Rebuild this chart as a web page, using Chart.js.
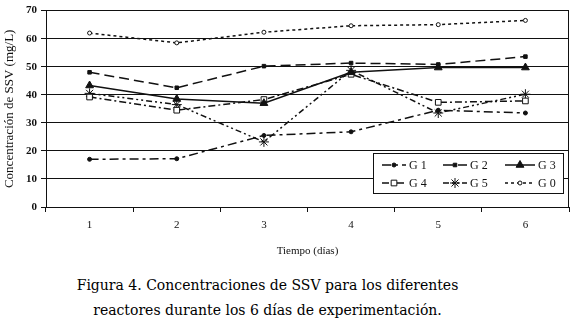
<!DOCTYPE html>
<html>
<head>
<meta charset="utf-8">
<script src="https://cdn.jsdelivr.net/npm/chart.js@4"></script>
<style>
  html, body { margin: 0; padding: 0; background: #fff; }
  #wrap { position: relative; width: 575px; height: 262px; }
  #caption {
    width: 535px;
    text-align: center;
    font-family: "DejaVu Serif", serif;
    font-size: 14px;
    line-height: 25px;
    color: #000;
    margin-top: 11px;
  }
</style>
</head>
<body>
<div id="wrap"><canvas id="myChart" width="575" height="262"></canvas></div>
<div id="caption">Figura 4. Concentraciones de SSV para los diferentes<br>reactores durante los 6 días de experimentación.</div>
<script>
const dias = ['1', '2', '3', '4', '5', '6']
const g1 = [17, 17.2, 25.5, 26.8, 34.5, 33.5]
const g2 = [48, 42.5, 50.2, 51.3, 50.8, 53.6]
const g3 = [43.3, 38.5, 37, 48, 49.7, 49.7]
const g4 = [39.2, 34.5, 38.3, 47.3, 37.3, 37.8]
const g5 = [40.5, 36.5, 23.2, 48.7, 33.5, 40.2]
const g0 = [62, 58.5, 62.3, 64.6, 65, 66.5]
const yTicks = [0, 10, 20, 30, 40, 50, 60, 70]

const serif = '"Liberation Serif", "Times New Roman", serif'

function serie(label, values, style) {
  return Object.assign({
    label: label,
    data: values,
    borderColor: '#111',
    backgroundColor: '#111',
    pointBorderColor: '#111',
    pointBackgroundColor: '#111',
    borderWidth: 1.5,
    tension: 0,
    pointBorderWidth: 1
  }, style)
}

const datasets = [
  serie('G 1', g1, { borderDash: [9, 4, 3, 4], pointStyle: 'circle', pointRadius: 2 }),
  serie('G 2', g2, { borderDash: [10, 5], pointStyle: 'rect', pointRadius: 2.5 }),
  serie('G 3', g3, { pointStyle: 'triangle', pointRadius: 4.5 }),
  serie('G 4', g4, { borderDash: [7, 3, 2, 3], pointStyle: 'rect', pointRadius: 4, pointBackgroundColor: '#fff' }),
  serie('G 5', g5, { borderDash: [6, 3, 2, 3, 2, 3], pointStyle: 'star', pointRadius: 5 }),
  serie('G 0', g0, { borderDash: [3, 3], pointStyle: 'circle', pointRadius: 2, pointBackgroundColor: '#fff' })
]

// marco derecho y leyenda dentro del area
const legendCols = [382, 443, 505]
const legendRows = [165, 183]

const extras = {
  id: 'extras',
  afterDraw(chart) {
    const ctx = chart.ctx
    const a = chart.chartArea
    ctx.save()
    ctx.strokeStyle = '#111'
    ctx.lineWidth = 1
    ctx.beginPath()
    ctx.moveTo(a.right - 0.5, a.top)
    ctx.lineTo(a.right - 0.5, a.bottom)
    ctx.stroke()

    // caja de leyenda
    ctx.fillStyle = '#fff'
    ctx.fillRect(373, 153, 190, 40)
    ctx.strokeRect(373.5, 153.5, 190, 40)
    ctx.font = '12px ' + serif
    ctx.textBaseline = 'middle'
    chart.data.datasets.forEach((ds, i) => {
      const x = legendCols[i % 3]
      const y = legendRows[Math.floor(i / 3)]
      const len = (i % 3 === 2) ? 30 : 24
      ctx.strokeStyle = '#111'
      ctx.lineWidth = ds.borderWidth
      ctx.setLineDash(ds.borderDash || [])
      ctx.beginPath()
      ctx.moveTo(x, y)
      ctx.lineTo(x + len, y)
      ctx.stroke()
      ctx.setLineDash([])
      ctx.lineWidth = 1
      ctx.fillStyle = ds.pointBackgroundColor
      Chart.helpers.drawPoint(ctx, {
        pointStyle: ds.pointStyle,
        radius: ds.pointRadius,
        borderWidth: 1
      }, x + len / 2, y)
      ctx.fillStyle = '#111'
      ctx.fillText(ds.label, x + len + 3, y + 1)
    })
    ctx.restore()
  }
}

const config = {
  type: 'line',
  data: { labels: dias, datasets: datasets },
  options: {
    responsive: false,
    animation: false,
    layout: { padding: { top: 7, right: 6, left: 0, bottom: 0 } },
    plugins: { legend: { display: false }, tooltip: { enabled: false } },
    scales: {
      x: {
        offset: true,
        grid: { display: true, offset: true, drawOnChartArea: false, drawTicks: true, tickLength: 5, color: '#111' },
        border: { color: '#111', width: 1 },
        ticks: { color: '#111', font: { family: serif, size: 11 }, padding: 7, maxRotation: 0 },
        title: { display: true, text: 'Tiempo (días)', color: '#111', font: { family: serif, size: 11 }, padding: { top: 6 } },
        afterFit(scale) { scale.height = 55 }
      },
      y: {
        min: 0,
        max: 70,
        afterBuildTicks(scale) { scale.ticks = yTicks.map(v => ({ value: v })) },
        grid: { color: '#111', lineWidth: 1, tickLength: 5 },
        border: { color: '#111', width: 1 },
        ticks: { color: '#111', font: { family: serif, size: 11, weight: 'bold' }, padding: 4 },
        title: { display: true, text: 'Concentración de SSV (mg/L)', color: '#111', font: { family: serif, size: 13 }, padding: { top: 2, bottom: 0 } },
        afterFit(scale) { scale.width = 46 }
      }
    }
  },
  plugins: [extras]
}

document.fonts.load('13px "Liberation Serif"').then(() => {
  new Chart(document.getElementById('myChart'), config)
})
</script>
</body>
</html>
